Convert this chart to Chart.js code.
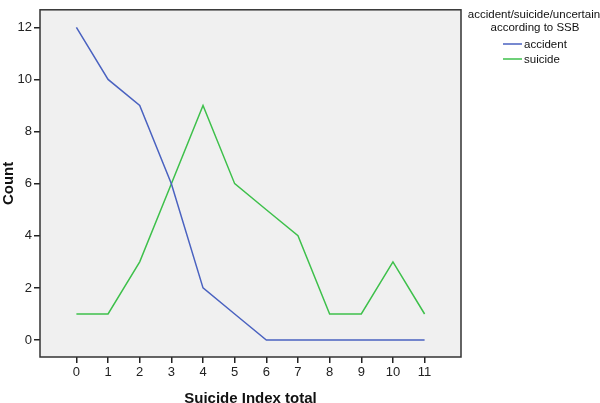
<!DOCTYPE html>
<html><head><meta charset="utf-8">
<script src="https://cdn.jsdelivr.net/npm/chart.js@4"></script>
<style>html,body{margin:0;padding:0;background:#fff}#w{width:600px;height:403px}</style>
</head><body><div id="w"><canvas id="c"></canvas></div>
<script>
const categories = [0,1,2,3,4,5,6,7,8,9,10,11];
const accident = [12,10,9,6,2,1,0,0,0,0,0,0];
const suicide = [1,1,3,6,9,6,5,4,1,1,3,1];
const yTicks = [0,2,4,6,8,10,12];
const seriesLabels = ['accident','suicide'];
const legendTitle = ['accident/suicide/uncertain','according to SSB'];
const colors = ['#4a62c0','#3ec04b'];
const FONT = "'Liberation Sans', Arial, sans-serif";

const frame = {
  id:'frame',
  beforeDraw(chart){
    const {ctx, chartArea:a} = chart;
    ctx.save(); ctx.fillStyle='#f0f0f0';
    ctx.fillRect(a.left,a.top,a.right-a.left,a.bottom-a.top); ctx.restore();
  },
  afterDraw(chart){
    const {ctx, chartArea:a} = chart;
    ctx.save(); ctx.strokeStyle='#333'; ctx.lineWidth=1.5;
    ctx.strokeRect(a.left,a.top,a.right-a.left,a.bottom-a.top);
    // legend
    ctx.fillStyle='#111'; ctx.font='11.5px '+FONT; ctx.textAlign='center'; ctx.textBaseline='middle';
    ctx.fillText(legendTitle[0],534,15);
    ctx.fillText(legendTitle[1],535,28);
    ctx.textAlign='left';
    chart.data.datasets.forEach((ds,i)=>{
      const y=44+i*15;
      ctx.strokeStyle=ds.borderColor; ctx.lineWidth=1.5;
      ctx.beginPath(); ctx.moveTo(503,y); ctx.lineTo(522,y); ctx.stroke();
      ctx.fillStyle='#111'; ctx.fillText(ds.label,524,y+1);
    });
    ctx.restore();
  }
};

new Chart(document.getElementById('c'),{
  type:'line',
  data:{datasets:[
    {label:seriesLabels[0],data:categories.map((x,i)=>({x,y:accident[i]})),borderColor:colors[0],borderWidth:1.5,pointRadius:0,fill:false,tension:0},
    {label:seriesLabels[1],data:categories.map((x,i)=>({x,y:suicide[i]})),borderColor:colors[1],borderWidth:1.5,pointRadius:0,fill:false,tension:0}
  ]},
  options:{
    responsive:true,maintainAspectRatio:false,animation:false,
    layout:{padding:{top:2,right:139,left:0,bottom:0}},
    plugins:{legend:{display:false},tooltip:{enabled:false}},
    scales:{
      x:{type:'linear',min:-1.15,max:12.15,
        afterBuildTicks(s){s.ticks=categories.map(v=>({value:v}));},
        afterFit(s){s.height=46;},
        grid:{drawOnChartArea:false,drawTicks:true,tickLength:6,color:'#222',lineWidth:1.5},
        border:{display:false},
        ticks:{color:'#222',font:{family:FONT,size:13},padding:2,autoSkip:false,maxRotation:0},
        title:{display:true,text:'Suicide Index total',color:'#111',font:{family:FONT,size:15,weight:'bold'},padding:{top:4,bottom:-5}}
      },
      y:{type:'linear',min:-0.65,max:12.67,
        afterBuildTicks(s){s.ticks=yTicks.map(v=>({value:v}));},
        afterFit(s){s.width=40;},
        grid:{drawOnChartArea:false,drawTicks:true,tickLength:6,color:'#222',lineWidth:1.5},
        border:{display:false},
        ticks:{color:'#222',font:{family:FONT,size:13},padding:2},
        title:{display:true,text:'Count',color:'#111',font:{family:FONT,size:15,weight:'bold'},padding:{top:0,bottom:0}}
      }
    }
  },
  plugins:[frame]
});
</script></body></html>
